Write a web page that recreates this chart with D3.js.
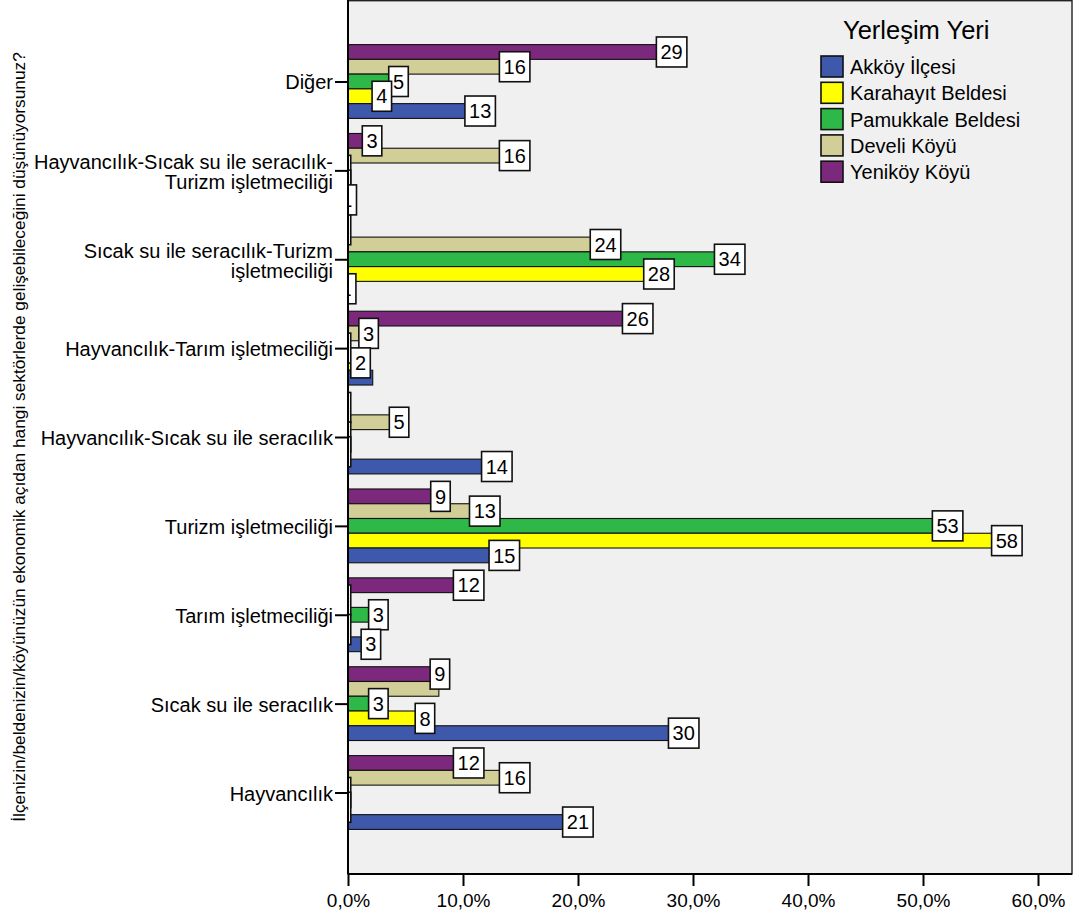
<!DOCTYPE html>
<html><head><meta charset="utf-8">
<script src="https://cdn.jsdelivr.net/npm/d3@7"></script>
<style>
body{margin:0;background:#fff;}
svg{display:block;font-family:"Liberation Sans",Arial,Helvetica,sans-serif;}
</style>
</head><body>
<svg id="chart" width="1077" height="917"></svg>
<script>
// ---------- DATA ----------
const categories = [
  "Diğer",
  "Hayvancılık-Sıcak su ile seracılık-Turizm işletmeciliği",
  "Sıcak su ile seracılık-Turizm işletmeciliği",
  "Hayvancılık-Tarım işletmeciliği",
  "Hayvancılık-Sıcak su ile seracılık",
  "Turizm işletmeciliği",
  "Tarım işletmeciliği",
  "Sıcak su ile seracılık",
  "Hayvancılık"
];
const seriesNames = ["Akköy İlçesi", "Karahayıt Beldesi", "Pamukkale Beldesi", "Develi Köyü", "Yeniköy Köyü"];
const seriesColors = ["#3e58ac", "#ffff00", "#2eb848", "#d2ce97", "#7c287c"];

// bar lengths (% within Yerleşim Yeri), category order as above
const akkoyPct     = [12.1, 0.5, 0.45, 2.15, 13.55, 14.2, 2.6, 29.8, 20.6];
const karahayitPct = [3.55, 0, 27.65, 1.7, 0, 57.9, 0, 7.3, 0];
const pamukkalePct = [5.0, 0, 33.8, 0, 0, 52.75, 3.25, 3.25, 0];
const develiPct    = [15.1, 15.1, 23.0, 2.4, 5.05, 12.5, 0, 7.9, 15.1];
const yenikoyPct   = [28.75, 2.7, 0, 25.8, 0, 8.65, 11.1, 8.6, 11.1];

// count labels (null = label not shown in the original)
const akkoyCount     = [13, 1, 1, null, 14, 15, 3, 30, 21];
const karahayitCount = [4, 0, 28, 2, 0, 58, 0, 8, 0];
const pamukkaleCount = [5, 0, 34, 0, 0, 53, 3, 3, 0];
const develiCount    = [16, 16, 24, 3, 5, 13, 0, null, 16];
const yenikoyCount   = [29, 3, 0, 26, 0, 9, 12, 9, 12];

const xTicks = [0, 10, 20, 30, 40, 50, 60];
const legendTitle = "Yerleşim Yeri";
const yTitle = "İlçenizin/beldenizin/köyünüzün ekonomik açıdan hangi sektörlerde gelişebileceğini düşünüyorsunuz?";

// ---------- BUILD ----------
const pcts = [akkoyPct, karahayitPct, pamukkalePct, develiPct, yenikoyPct];
const counts = [akkoyCount, karahayitCount, pamukkaleCount, develiCount, yenikoyCount];
const series = seriesNames.map((name, i) => ({
  name, color: seriesColors[i],
  values: categories.map((c, j) => ({cat: c, pct: pcts[i][j], n: counts[i][j]}))
}));
// drawing order inside a group: top bar first (reverse of legend)
const drawOrder = series.slice().reverse();

const svg = d3.select("#chart");
const P = {left: 348, right: 1072, top: 0, bottom: 874};

const x = d3.scaleLinear().domain([0, 60]).range([P.left, P.left + 690]);
const y = d3.scalePoint().domain(categories).range([P.top, P.bottom]).padding(0.917);
const sub = d3.scaleBand().domain(drawOrder.map(s => s.name)).range([-36.9, 36.9]);

// plot background
svg.append("rect")
  .attr("x", P.left).attr("y", P.top)
  .attr("width", P.right - P.left).attr("height", P.bottom - P.top)
  .attr("fill", "#f0f0f0");

svg.append("defs").append("clipPath").attr("id", "plotclip")
  .append("rect").attr("x", P.left).attr("y", P.top)
  .attr("width", P.right - P.left).attr("height", P.bottom - P.top);

// bars
const barG = svg.append("g");
drawOrder.forEach(s => {
  barG.selectAll(null).data(s.values.filter(v => v.pct > 0)).enter().append("rect")
    .attr("x", x(0))
    .attr("y", d => y(d.cat) + sub(s.name))
    .attr("width", d => x(d.pct) - x(0))
    .attr("height", sub.bandwidth())
    .attr("fill", s.color)
    .attr("stroke", "#111").attr("stroke-width", 1.1);
});

// value labels (boxes of zero values fall almost entirely outside the plot and are clipped)
const labG = svg.append("g").attr("clip-path", "url(#plotclip)");
drawOrder.forEach(s => {
  s.values.filter(v => v.n !== null).forEach(d => {
    const txt = String(d.n);
    const w = 8.5 + 11 * txt.length, h = 30;
    const cx = x(d.pct) - 7;
    const cy = y(d.cat) + sub(s.name) + sub.bandwidth() / 2;
    labG.append("rect")
      .attr("x", cx - w / 2).attr("y", cy - h / 2)
      .attr("width", w).attr("height", h)
      .attr("fill", "#fff").attr("stroke", "#111").attr("stroke-width", 1.6);
    if (d.n > 0) {
      labG.append("text")
        .attr("x", cx).attr("y", cy + 7.2)
        .attr("text-anchor", "middle")
        .attr("font-size", 20).attr("fill", "#000")
        .text(txt);
    }
  });
});

// frame
svg.append("rect")
  .attr("x", P.left).attr("y", P.top + 0.7)
  .attr("width", P.right - P.left).attr("height", P.bottom - P.top - 0.7)
  .attr("fill", "none").attr("stroke", "#222").attr("stroke-width", 1.4);
svg.append("line").attr("x1", P.left).attr("x2", P.left).attr("y1", P.top).attr("y2", P.bottom)
  .attr("stroke", "#000").attr("stroke-width", 2);
svg.append("line").attr("x1", P.left).attr("x2", P.right).attr("y1", P.bottom).attr("y2", P.bottom)
  .attr("stroke", "#000").attr("stroke-width", 2);

// x axis
const xAxis = svg.append("g").attr("transform", `translate(0,${P.bottom})`)
  .call(d3.axisBottom(x).tickValues(xTicks).tickSize(12).tickPadding(6)
    .tickFormat(d => d3.format(".1f")(d).replace(".", ",") + "%"));
xAxis.select(".domain").remove();
xAxis.selectAll(".tick line").attr("stroke", "#000").attr("stroke-width", 2);
xAxis.selectAll(".tick text").attr("font-size", 19).attr("fill", "#000")
  .attr("font-family", "'Liberation Sans',Arial,sans-serif")
  .attr("dy", null).attr("y", 33);

// y axis
const yAxis = svg.append("g").attr("transform", `translate(${P.left},0)`)
  .call(d3.axisLeft(y).tickSize(13).tickPadding(2));
yAxis.select(".domain").remove();
yAxis.selectAll(".tick line").attr("stroke", "#000").attr("stroke-width", 2);
yAxis.selectAll(".tick text").each(function(d) {
  const t = d3.select(this);
  t.text(null).attr("font-size", 20).attr("fill", "#000").attr("dy", null)
    .attr("font-family", "'Liberation Sans',Arial,sans-serif")
    .attr("x", -15);
  // greedy wrap; break opportunities after '-' and at spaces
  const tokens = d.match(/[^\s-]+-?|\s+/g);
  const maxW = 305;
  const lines = [];
  let cur = "";
  const probe = t.append("tspan");
  tokens.forEach(tok => {
    const test = cur + tok;
    probe.text(test.trim());
    if (cur && probe.node().getComputedTextLength() > maxW) {
      lines.push(cur.trim()); cur = tok.trim() ? tok : "";
    } else cur = test;
  });
  if (cur.trim()) lines.push(cur.trim());
  probe.remove();
  if (lines.length === 1) {
    t.append("tspan").attr("x", -15).attr("y", 7.5).text(lines[0]);
  } else {
    lines.forEach((ln, i) => t.append("tspan").attr("x", -15).attr("y", -1.5 + i * 20).text(ln));
  }
});

// y title
svg.append("text")
  .attr("transform", `translate(24.5,${(P.top + P.bottom) / 2}) rotate(-90)`)
  .attr("text-anchor", "middle").attr("font-size", 17.3).attr("fill", "#000")
  .text(yTitle);

// legend
const lg = svg.append("g");
lg.append("text").attr("x", 843).attr("y", 38.5).attr("font-size", 25.5).attr("fill", "#000").text(legendTitle);
series.forEach((s, i) => {
  const yy = 56 + i * 26.3;
  lg.append("rect").attr("x", 821).attr("y", yy).attr("width", 22).attr("height", 21)
    .attr("fill", s.color).attr("stroke", "#111").attr("stroke-width", 1.6);
  lg.append("text").attr("x", 850).attr("y", yy + 18).attr("font-size", 20).attr("fill", "#000").text(s.name);
});
</script>
</body></html>
